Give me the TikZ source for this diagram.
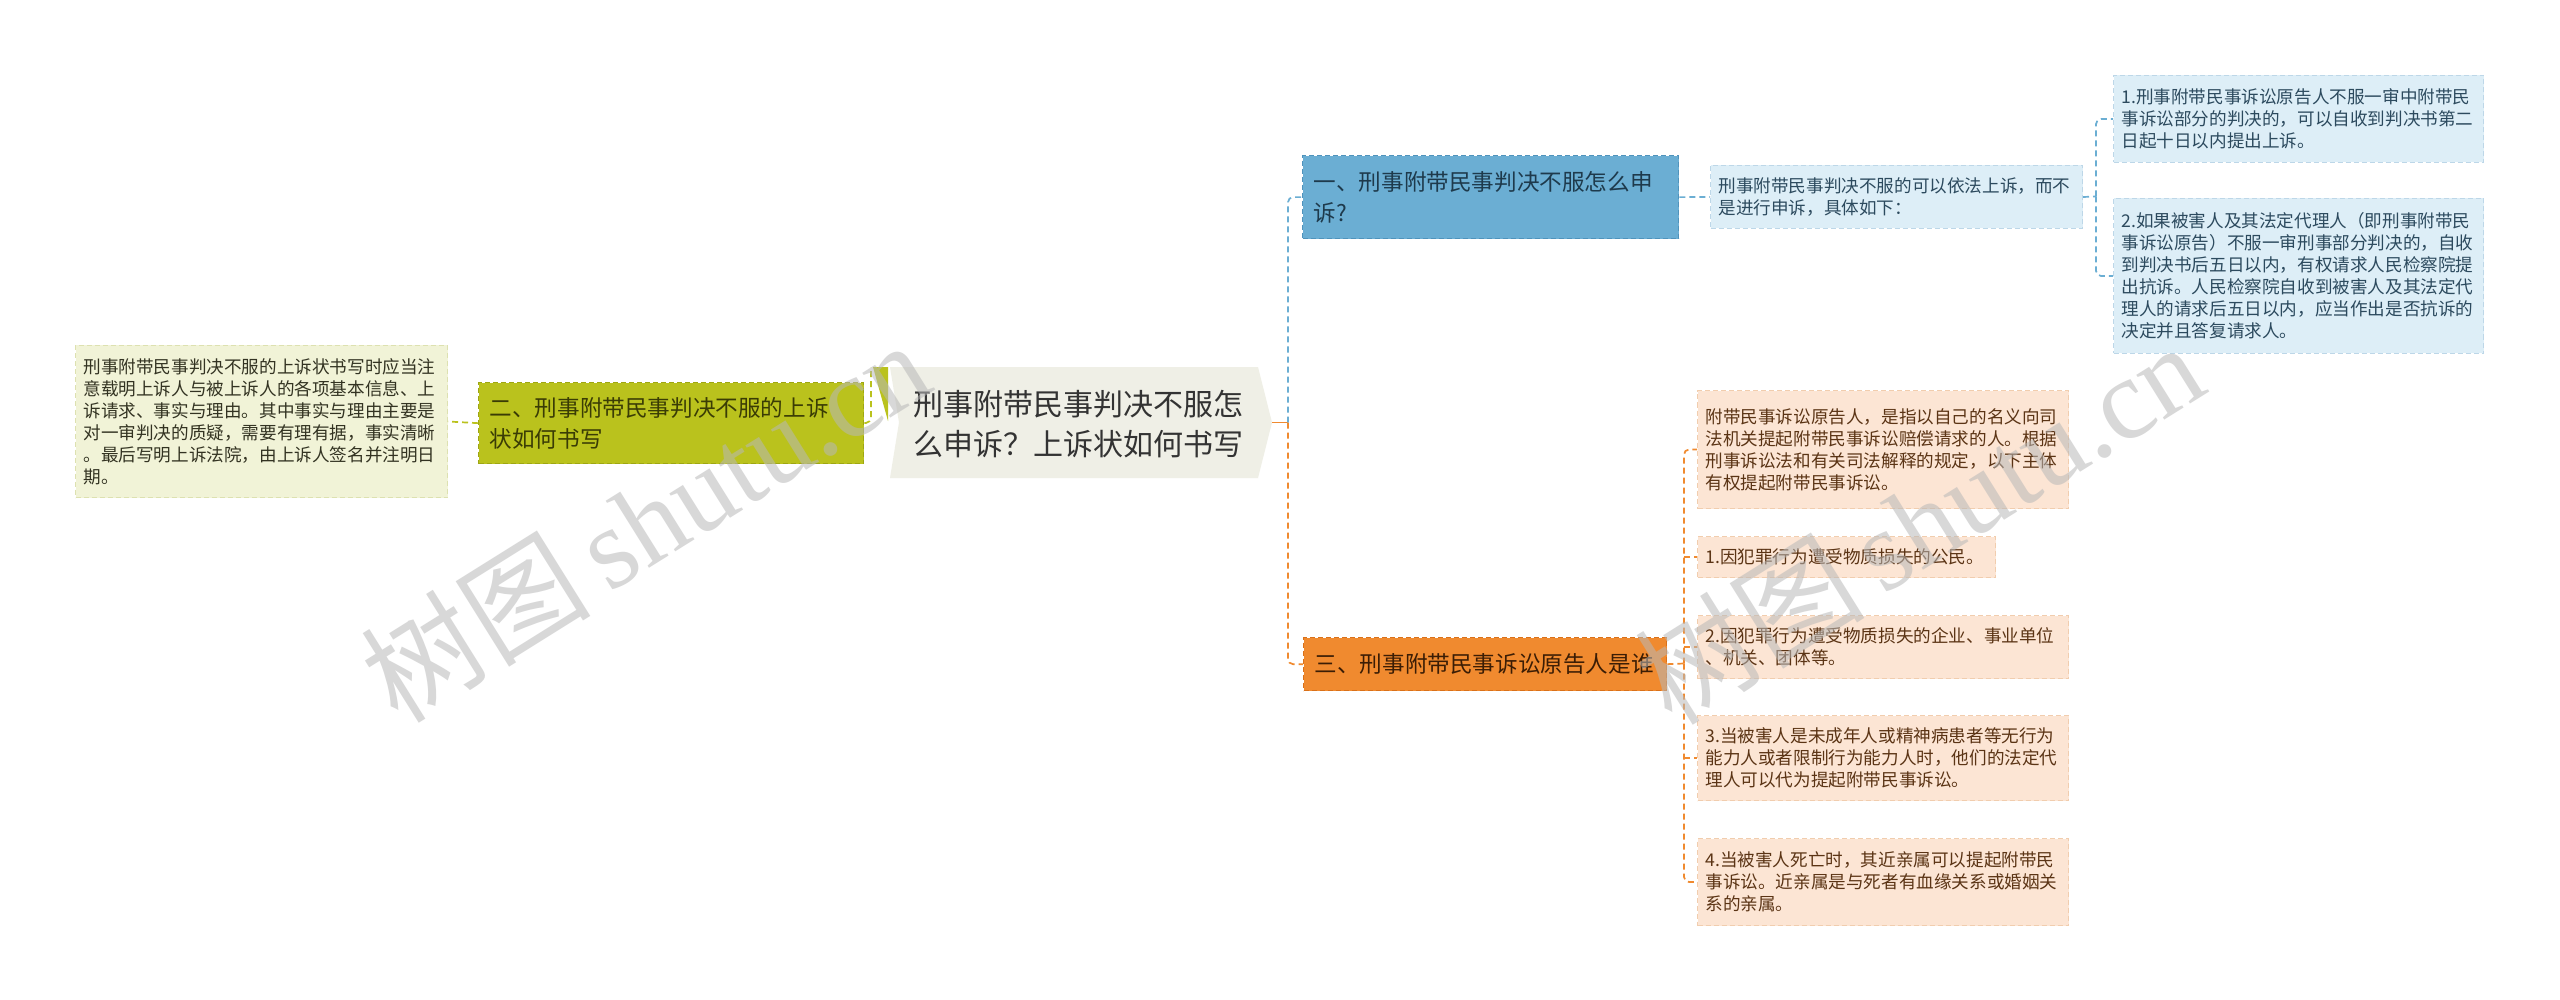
\documentclass[tikz,border=0pt]{standalone}
\usepackage{fontspec}
\setmainfont{Noto Sans CJK SC}
\newfontfamily\wmlatin{Liberation Serif}
\definecolor{cfill}{HTML}{EFEFE6}
\definecolor{cT}{HTML}{333333}
\definecolor{blueM}{HTML}{6BAED3}
\definecolor{blueMd}{HTML}{4F93BC}
\definecolor{blueT}{HTML}{1E3A4C}
\definecolor{blueL}{HTML}{DDEEF7}
\definecolor{blueLd}{HTML}{BDD7E8}
\definecolor{blueLT}{HTML}{2C4A5E}
\definecolor{oliveM}{HTML}{BAC21D}
\definecolor{oliveMd}{HTML}{9EA612}
\definecolor{oliveT}{HTML}{3A3C05}
\definecolor{oliveL}{HTML}{F1F3D7}
\definecolor{oliveLd}{HTML}{DDE1B0}
\definecolor{oliveLT}{HTML}{333322}
\definecolor{orM}{HTML}{F08A2F}
\definecolor{orMd}{HTML}{D9711A}
\definecolor{orT}{HTML}{3B1D05}
\definecolor{orL}{HTML}{FCE5D4}
\definecolor{orLd}{HTML}{F1CDAE}
\definecolor{orLT}{HTML}{5B3415}
\definecolor{wm}{HTML}{B8B8B8}
\tikzset{
  basebox/.style={rectangle, anchor=north west, draw, dash pattern=on 5pt off 3pt,
    line width=1pt, inner ysep=0pt, align=left},
  leafbox/.style={basebox, inner xsep=8pt, font=\fontsize{17.6}{22}\selectfont},
  mainbox/.style={basebox, inner xsep=11pt, line width=1.3pt, font=\fontsize{22.6}{31}\selectfont},
  bluemain/.style={mainbox, fill=blueM, draw=blueMd, text=blueT},
  bluelf/.style={leafbox, fill=blueL, draw=blueLd, text=blueLT},
  olivemain/.style={mainbox, fill=oliveM, draw=oliveMd, text=oliveT},
  olivelf/.style={leafbox, fill=oliveL, draw=oliveLd, text=oliveLT},
  ormain/.style={mainbox, fill=orM, draw=orMd, text=orT},
  orlf/.style={leafbox, fill=orL, draw=orLd, text=orLT},
  con/.style={line width=1.7pt, dash pattern=on 6pt off 4pt, rounded corners=5pt},
  bluecon/.style={con, draw=blueM},
  orcon/.style={con, draw=orM},
  olivecon/.style={con, draw=oliveM},
  wmark/.style={text=wm, opacity=0.55, rotate=32, inner sep=0pt}
}
\begin{document}
\begin{tikzpicture}[x=1pt,y=-1pt]
\useasboundingbox (0,0) rectangle (2560,1000);
\fill[white] (0,0) rectangle (2560,1000);

% central node
\fill[cfill] (890,367) -- (1258,367) -- (1272,422.5) -- (1258,478) -- (890,478) -- (899,422.5) -- cycle;
\node[text=cT, align=left, inner sep=0pt, font=\fontsize{30}{40}\selectfont] (c) at (1078,424)
  {刑事附带民事判决不服怎\\么申诉？上诉状如何书写};
\coordinate (cR) at (1272,422.5);

% main branches
\node[bluemain, minimum width=376pt, minimum height=83pt, text width=354pt] (n1) at (1302,155)
  {一、刑事附带民事判决不服怎么申\\诉?};
\node[olivemain, minimum width=385pt, minimum height=81pt, text width=363pt] (n2) at (478,382)
  {二、刑事附带民事判决不服的上诉\\状如何书写};
\node[ormain, minimum width=363pt, minimum height=53pt, text width=341pt] (n3) at (1303,637)
  {三、刑事附带民事诉讼原告人是谁};

% blue leaves
\node[bluelf, minimum width=372pt, minimum height=63pt, text width=356pt] (b0) at (1710,165)
  {刑事附带民事判决不服的可以依法上诉，而不\\是进行申诉，具体如下：};
\node[bluelf, minimum width=370pt, minimum height=87pt, text width=354pt] (b1) at (2113,75)
  {1.刑事附带民事诉讼原告人不服一审中附带民\\事诉讼部分的判决的，可以自收到判决书第二\\日起十日以内提出上诉。};
\node[bluelf, minimum width=370pt, minimum height=155pt, text width=354pt] (b2) at (2113,198)
  {2.如果被害人及其法定代理人（即刑事附带民\\事诉讼原告）不服一审刑事部分判决的，自收\\到判决书后五日以内，有权请求人民检察院提\\出抗诉。人民检察院自收到被害人及其法定代\\理人的请求后五日以内，应当作出是否抗诉的\\决定并且答复请求人。};

% olive leaf
\node[olivelf, minimum width=372pt, minimum height=152pt, text width=356pt] (l0) at (75,345)
  {刑事附带民事判决不服的上诉状书写时应当注\\意载明上诉人与被上诉人的各项基本信息、上\\诉请求、事实与理由。其中事实与理由主要是\\对一审判决的质疑，需要有理有据，事实清晰\\。最后写明上诉法院，由上诉人签名并注明日\\期。};

% orange leaves
\node[orlf, minimum width=371pt, minimum height=118pt, text width=355pt] (o0) at (1697,390)
  {附带民事诉讼原告人，是指以自己的名义向司\\法机关提起附带民事诉讼赔偿请求的人。根据\\刑事诉讼法和有关司法解释的规定，以下主体\\有权提起附带民事诉讼。};
\node[orlf, minimum width=298pt, minimum height=41pt, text width=282pt] (o1) at (1697,536)
  {1.因犯罪行为遭受物质损失的公民。};
\node[orlf, minimum width=371pt, minimum height=63pt, text width=355pt] (o2) at (1697,615)
  {2.因犯罪行为遭受物质损失的企业、事业单位\\、机关、团体等。};
\node[orlf, minimum width=371pt, minimum height=85pt, text width=355pt] (o3) at (1697,715)
  {3.当被害人是未成年人或精神病患者等无行为\\能力人或者限制行为能力人时，他们的法定代\\理人可以代为提起附带民事诉讼。};
\node[orlf, minimum width=371pt, minimum height=87pt, text width=355pt] (o4) at (1697,838)
  {4.当被害人死亡时，其近亲属可以提起附带民\\事诉讼。近亲属是与死者有血缘关系或婚姻关\\系的亲属。};

% junctions
\coordinate (j1) at (1288,422.5);
\coordinate (j2) at (2096,196.5);
\coordinate (j3) at (1684,663.5);
\coordinate (j4) at (871,422.5);
\coordinate (j4t) at (871,367);

% connectors right of centre
\draw[line width=1.8pt, draw=orM] (cR) -- (j1);
\draw[bluecon] (j1) |- (n1.west);
\draw[orcon] (j1) |- (n3.west);

% blue branch
\draw[bluecon] (n1.east) -- (b0.west);
\draw[bluecon] (b0.east) -- (j2);
\draw[bluecon] (j2) |- (b1.west);
\draw[bluecon] (j2) |- (b2.west);

% orange branch
\draw[orcon] (n3.east) -- (j3);
\draw[orcon] (j3) |- (o0.west);
\draw[orcon] (j3) |- (o4.west);
\draw[orcon] (j3 |- o1.west) -- (o1.west);
\draw[orcon] (j3 |- o2.west) -- (o2.west);
\draw[orcon] (j3 |- o3.west) -- (o3.west);

% olive branch
\fill[oliveM] (873,367) -- (888,367) -- (888,421) -- cycle;
\draw[olivecon] (n2.east) -- (j4) -- (j4t);
\draw[olivecon] (n2.west) -- (l0.east);

% watermarks
\node[wmark] (w1) at (645,520) {\fontsize{115}{115}\selectfont 树图\,{\wmlatin shutu.cn}};
\node[wmark] (w2) at (1919,522) {\fontsize{115}{115}\selectfont 树图\,{\wmlatin shutu.cn}};
\end{tikzpicture}
\end{document}
